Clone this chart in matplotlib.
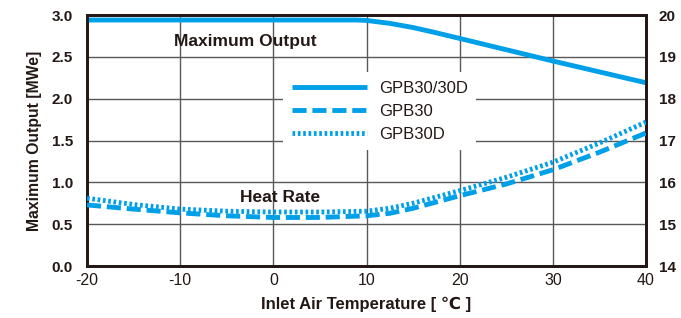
import matplotlib
matplotlib.use("Agg")
import matplotlib.pyplot as plt
import numpy as np

plt.rcParams['font.family'] = ['Liberation Sans', 'DejaVu Sans']

# Data
temp_out = [-20, -10, 0, 5, 9, 10, 12.5, 15, 17, 20, 25, 30, 35, 40]
max_output = [2.94, 2.94, 2.94, 2.94, 2.94, 2.935, 2.90, 2.85, 2.80, 2.72, 2.585, 2.45, 2.32, 2.19]

temp_hr = [-20, -15, -10, -5, 0, 5, 10, 12.5, 15, 20, 25, 30, 35, 40]
hr_gpb30 = [15.46, 15.36, 15.27, 15.20, 15.16, 15.16, 15.20, 15.26, 15.38, 15.68, 15.96, 16.30, 16.72, 17.18]
hr_gpb30d = [15.62, 15.47, 15.36, 15.31, 15.29, 15.29, 15.31, 15.38, 15.50, 15.80, 16.12, 16.48, 16.94, 17.44]

x_ticks = [-20, -10, 0, 10, 20, 30, 40]
y_left_ticks = [0.0, 0.5, 1.0, 1.5, 2.0, 2.5, 3.0]
y_right_ticks = [14, 15, 16, 17, 18, 19, 20]

color = '#00A0E9'
dark = '#231815'

fig = plt.figure(figsize=(6.81, 3.18), dpi=100)
ax = fig.add_axes([87/681, 1-266/318, (646-87)/681, (266-15)/318])
ax2 = ax.twinx()

ax.set_xlim(-20, 40)
ax.set_ylim(0, 3.0)
ax2.set_ylim(14, 20)

ax.grid(True, color='#595757', linewidth=1.0)
ax.set_axisbelow(True)

l1, = ax.plot(temp_out, max_output, color=color, linewidth=3.5, solid_capstyle='butt', zorder=5)
l2, = ax2.plot(temp_hr, hr_gpb30, color=color, linewidth=3.5, linestyle=(0, (2.9, 1.2)), zorder=5)
l3, = ax2.plot(temp_hr, hr_gpb30d, color=color, linewidth=3.5, linestyle=(0, (0.55, 0.55)), zorder=5)

ax.set_xticks(x_ticks)
ax.set_xticklabels([str(t) for t in x_ticks], fontsize=11.5, color=dark)
ax.set_yticks(y_left_ticks)
ax.set_yticklabels([f"{v:.1f}" for v in y_left_ticks], fontsize=11, fontweight='bold', color=dark)
ax2.set_yticks(y_right_ticks)
ax2.set_yticklabels([str(v) for v in y_right_ticks], fontsize=11, fontweight='bold', color=dark)

ax.tick_params(axis='y', length=0, pad=10)
ax.tick_params(axis='x', length=0, pad=5)
ax2.tick_params(length=0, pad=9)

for a in (ax, ax2):
    for s in a.spines.values():
        s.set_linewidth(2)
        s.set_color(dark)

ax.set_xlabel('Inlet Air Temperature [ ℃ ]', fontsize=12, fontweight='bold', labelpad=6, color=dark)
ax.set_ylabel('Maximum Output [MWe]', fontsize=11.3, fontweight='bold', labelpad=7, color=dark)

ax.text(-3.0, 2.68, 'Maximum Output', fontsize=12.5, fontweight='bold', ha='center', va='center', zorder=6, color=dark)
ax.text(0.7, 0.82, 'Heat Rate', fontsize=12.5, fontweight='bold', ha='center', va='center', zorder=6, color=dark)

leg = ax2.legend([l1, l2, l3], ['GPB30/30D', 'GPB30', 'GPB30D'],
                 loc='upper left', bbox_to_anchor=((283-87)/559, (266-72)/251),
                 frameon=True, fontsize=12, handlelength=4.5, handletextpad=0.72,
                 labelspacing=0.48, borderpad=0.52, fancybox=False, borderaxespad=0)
leg.get_frame().set_edgecolor('none')
leg.get_frame().set_facecolor('white')
leg.get_frame().set_alpha(1)
for t in leg.get_texts():
    t.set_color(dark)
leg.set_zorder(4)

fig.savefig('out.png', dpi=100)
